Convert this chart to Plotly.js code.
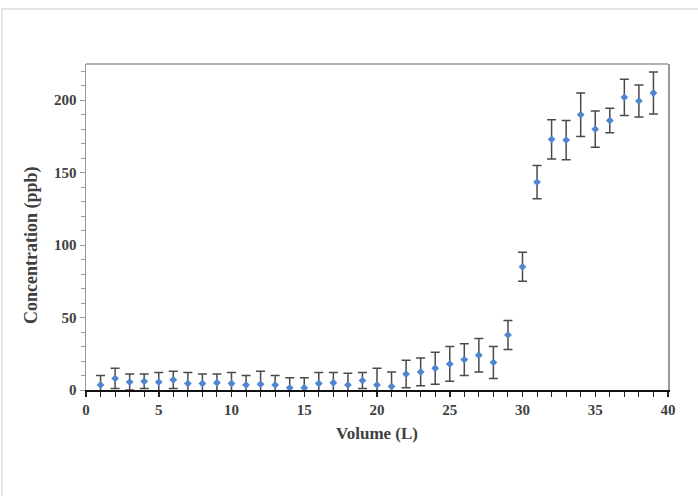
<!DOCTYPE html>
<html>
<head>
<meta charset="utf-8">
<script src="https://cdn.plot.ly/plotly-3.0.1.min.js"></script>
<style>
  html, body { margin: 0; padding: 0; background: #ffffff; }
  #chart { width: 698px; height: 496px; }
</style>
</head>
<body>
<div id="chart"></div>
<script>
// Breakthrough curve: concentration in the effluent vs. volume passed
const volume = [1, 2, 3, 4, 5, 6, 7, 8, 9, 10,
                11, 12, 13, 14, 15, 16, 17, 18, 19, 20,
                21, 22, 23, 24, 25, 26, 27, 28, 29, 30,
                31, 32, 33, 34, 35, 36, 37, 38, 39];
const concentration = [3.5, 8, 5.5, 6, 5.5, 7, 4.5, 4.5, 5, 4.5,
                       3.5, 4, 3.5, 1.5, 1.5, 4.5, 5, 3.5, 6.5, 3.5,
                       2.5, 11, 12.5, 15, 18, 21, 24, 19, 38, 85,
                       143.5, 173, 172.5, 190, 180, 186, 202, 199.5, 205];
const stdDev = [6.5, 7, 5.5, 5, 6.5, 6, 7.5, 6.5, 6, 7.5,
                6.5, 9, 6.5, 7, 7, 7.5, 7, 8, 5.5, 11.5,
                10, 9.5, 9.5, 11, 12, 11, 11.5, 11, 10, 10,
                11.5, 13.5, 13.5, 15, 12.5, 8.5, 12.5, 11, 14.5];
const xTickVals = [0, 5, 10, 15, 20, 25, 30, 35, 40];
const yTickVals = [0, 50, 100, 150, 200];

const serif = "Liberation Serif, Times New Roman, serif";
const tickFont = { family: serif, size: 15, color: "#3f3f3f", weight: "bold" };
const titleFont = { family: serif, size: 17, color: "#3f3f3f", weight: "bold" };

const trace = {
  x: volume,
  y: concentration,
  type: "scatter",
  mode: "markers",
  marker: { symbol: "diamond", size: 6, color: "#4f86cf" },
  error_y: {
    type: "data",
    array: stdDev,
    visible: true,
    color: "#4a4a4a",
    thickness: 1.5,
    width: 4.5
  },
  hoverinfo: "x+y",
  showlegend: false
};

const layout = {
  width: 698,
  height: 496,
  margin: { l: 86, r: 30, t: 64, b: 106 },
  paper_bgcolor: "#ffffff",
  plot_bgcolor: "#ffffff",
  showlegend: false,
  xaxis: {
    range: [0, 40],
    tickvals: xTickVals,
    ticks: "outside",
    ticklen: 5,
    tickwidth: 1.5,
    tickcolor: "#222222",
    minor: { dtick: 1, ticks: "outside", ticklen: 5, tickwidth: 1, tickcolor: "#222222" },
    showline: true,
    linecolor: "#111111",
    linewidth: 2,
    showgrid: false,
    zeroline: false,
    tickfont: tickFont,
    title: { text: "Volume (L)", font: titleFont, standoff: 10 }
  },
  yaxis: {
    range: [0, 225],
    tickvals: yTickVals,
    ticks: "outside",
    ticklen: 5,
    tickwidth: 1,
    tickcolor: "#9a9a9a",
    minor: { dtick: 10, ticks: "outside", ticklen: 4, tickwidth: 1, tickcolor: "#9a9a9a" },
    showline: true,
    mirror: true,
    linecolor: "#9a9a9a",
    linewidth: 1.5,
    showgrid: false,
    zeroline: false,
    tickfont: tickFont
  },
  annotations: [
    // y-axis title, placed a little below the axis midpoint
    { text: "Concentration (ppb)", xref: "paper", yref: "paper",
      x: -0.0928, y: 0.445, xanchor: "center", yanchor: "middle",
      textangle: -90, showarrow: false,
      font: { family: serif, size: 18, color: "#3f3f3f", weight: "bold" } }
  ],
  shapes: [
    // top edge of the plot frame
    { type: "line", xref: "paper", yref: "paper", x0: 0, x1: 1, y0: 1, y1: 1,
      line: { color: "#9a9a9a", width: 1.5 } },
    // light outer frame around the figure
    { type: "rect", xref: "paper", yref: "paper",
      x0: -0.1443, x1: 1.0808, y0: -0.34, y1: 1.1687,
      line: { color: "#dcdcdc", width: 1.5 } }
  ]
};

Plotly.newPlot("chart", [trace], layout, { displayModeBar: false, staticPlot: true });
</script>
</body>
</html>
